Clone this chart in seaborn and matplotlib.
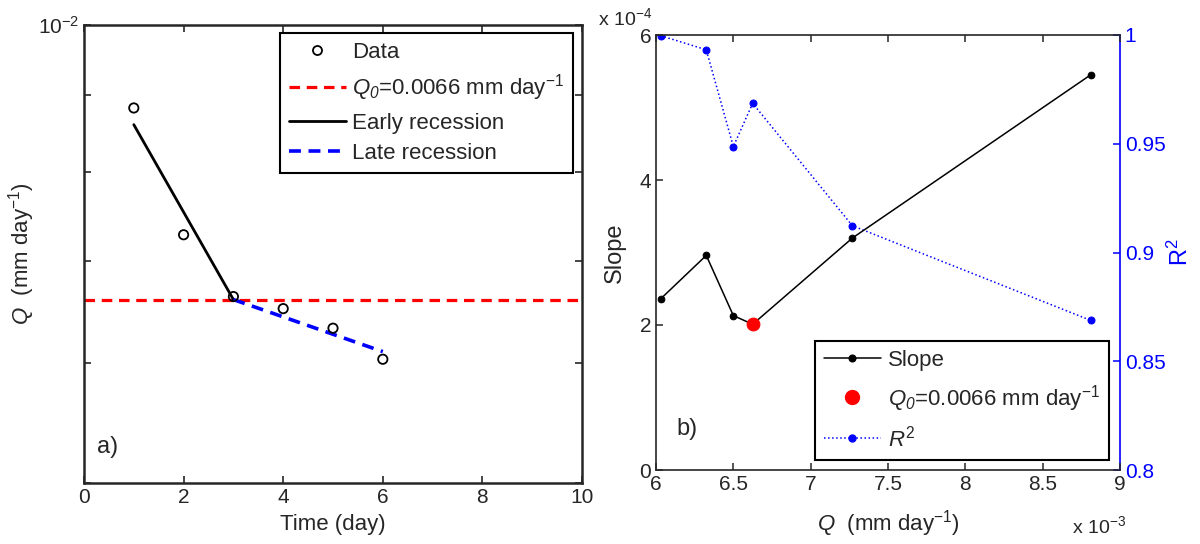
import matplotlib
matplotlib.use("Agg")
import matplotlib.pyplot as plt
import seaborn as sns
import pandas as pd
import numpy as np
from matplotlib.lines import Line2D

# ---- data ----
time_days = [1, 2, 3, 4, 5, 6]
q_data = [0.00882, 0.00728, 0.00663, 0.00651, 0.00632, 0.00603]
q0 = 0.0066
early_t = [1, 3]
early_q = [0.00860, 0.0066]
late_t = [3, 6]
late_q = [0.0066, 0.0061]

q_x = [6.03e-3, 6.325e-3, 6.50e-3, 6.625e-3, 7.27e-3, 8.81e-3]
slope_vals = [2.36e-4, 2.96e-4, 2.13e-4, 2.01e-4, 3.20e-4, 5.45e-4]
r2_vals = [0.9997, 0.9932, 0.9487, 0.9686, 0.9123, 0.8688]
q0_index = 3

sns.set_style("ticks")
plt.rcParams['font.family'] = ['Liberation Sans', 'DejaVu Sans']
plt.rcParams['mathtext.fontset'] = 'custom'
plt.rcParams['mathtext.rm'] = 'Liberation Sans'
plt.rcParams['mathtext.it'] = 'Liberation Sans:italic'
plt.rcParams['mathtext.sf'] = 'Liberation Sans:italic'
plt.rcParams['mathtext.bf'] = 'Liberation Sans:bold'

FT = 15      # tick labels
FL = 16      # axis labels
FG = 16      # legend
Q0LAB = r"$\mathit{Q}_\mathsf{0}$=0.0066 mm day$^{-1}$"

fig = plt.figure(figsize=(12, 5.44), dpi=100)
axL = fig.add_axes([84/1200, 1-483/544, (582-84)/1200, (483-25)/544])
axR = fig.add_axes([656/1200, 1-470/544, (1120-656)/1200, (470-35)/544])

DASH = (0, (3.3, 2.1))

# ---- left panel ----
dfd = pd.DataFrame({"t": time_days, "q": q_data})
axL.axhline(q0, color="red", ls=DASH, lw=2.3, zorder=2)
sns.lineplot(x=early_t, y=early_q, ax=axL, color="black", lw=2, zorder=3)
sns.lineplot(x=late_t, y=late_q, ax=axL, color="blue", lw=2.6, ls=DASH, zorder=3)
sns.scatterplot(data=dfd, x="t", y="q", ax=axL, marker="o", s=45,
                facecolors="none", edgecolor="black", linewidth=1.3, zorder=4)
axL.set_yscale("log")
axL.set_xlim(0, 10)
axL.set_ylim(0.005, 0.01)
axL.set_xticks([0, 2, 4, 6, 8, 10])
yt = [0.005, 0.006, 0.007, 0.008, 0.009, 0.01]
axL.set_yticks(yt)
axL.set_yticklabels(["", "", "", "", "", r"$10^{-2}$"])
axL.yaxis.set_minor_locator(matplotlib.ticker.NullLocator())
axL.tick_params(axis="both", which="both", direction="in", top=True, right=True,
                labelsize=FT, length=5, width=1.2)
axL.set_xlabel("Time (day)", fontsize=FL, labelpad=5)
axL.set_ylabel(r"$\mathit{Q}$  (mm day$^{-1}$)", fontsize=FL)
axL.yaxis.set_label_coords(-0.094, 0.5)
for s in axL.spines.values():
    s.set_linewidth(1.8)
axL.text(0.026, 0.055, "a)", transform=axL.transAxes, fontsize=FL + 1, va="bottom")

hL = [Line2D([], [], ls="none", marker="o", mfc="none", mec="black", ms=6.5, mew=1.3),
      Line2D([], [], color="red", ls=DASH, lw=2.3),
      Line2D([], [], color="black", lw=2),
      Line2D([], [], color="blue", ls=DASH, lw=2.6)]
labL = ["Data", Q0LAB, "Early recession", "Late recession"]
legL = axL.legend(hL, labL, loc="upper right", bbox_to_anchor=(0.982, 0.983),
                  borderaxespad=0, fontsize=FG, handlelength=2.55, handletextpad=0.3,
                  labelspacing=0.43, fancybox=False, framealpha=1, edgecolor="black",
                  borderpad=0.4)
legL.get_frame().set_linewidth(1.5)

# ---- right panel ----
dfr = pd.DataFrame({"q": q_x, "slope": slope_vals, "r2": r2_vals})
axR2 = axR.twinx()
sns.lineplot(data=dfr, x="q", y="r2", ax=axR2, color="blue", lw=1.1, ls=":",
             marker="o", markersize=5, markeredgecolor="blue", zorder=2)
sns.lineplot(data=dfr, x="q", y="slope", ax=axR, color="black", lw=1.1,
             marker="o", markersize=4.8, markeredgecolor="black", zorder=3)
sns.scatterplot(x=[q_x[q0_index]], y=[slope_vals[q0_index]], ax=axR, color="red",
                s=85, edgecolor="red", zorder=5)
axR.set_zorder(axR2.get_zorder() + 1)
axR.patch.set_visible(False)

axR.set_xlim(6e-3, 9e-3)
axR.set_ylim(0, 6e-4)
axR2.set_ylim(0.8, 1.0)
axR.set_xticks([6e-3, 6.5e-3, 7e-3, 7.5e-3, 8e-3, 8.5e-3, 9e-3])
axR.set_xticklabels(["6", "6.5", "7", "7.5", "8", "8.5", "9"])
axR.set_yticks([0, 2e-4, 4e-4, 6e-4])
axR.set_yticklabels(["0", "2", "4", "6"])
axR2.set_yticks([0.8, 0.85, 0.9, 0.95, 1.0])
axR2.set_yticklabels(["0.8", "0.85", "0.9", "0.95", "1"])
axR.tick_params(axis="both", direction="in", top=True, right=False, labelsize=FT,
                length=5, width=1.1)
axR2.tick_params(axis="y", direction="in", colors="blue", labelsize=FT, length=5, width=1.1)
axR.set_xlabel(r"$\mathit{Q}$  (mm day$^{-1}$)", fontsize=FL, labelpad=10)
axR.set_ylabel("Slope", fontsize=FL + 1)
axR.yaxis.set_label_coords(-0.065, 0.5)
axR2.set_ylabel(r"R$^2$", fontsize=FL + 1, color="blue")
axR2.yaxis.set_label_coords(1.103, 0.5)
for s in ["left", "top", "bottom"]:
    axR.spines[s].set_linewidth(1.2)
axR2.spines["right"].set_color("blue")
axR2.spines["right"].set_linewidth(1.2)
axR.spines["right"].set_visible(False)
for s in ["left", "top", "bottom"]:
    axR2.spines[s].set_visible(False)
axR.text(0.043, 0.069, "b)", transform=axR.transAxes, fontsize=FL + 1, va="bottom")
fig.text(598/1200, 1-18/544, r"x 10$^{-4}$", fontsize=FT - 1, va="center")
fig.text(1072/1200, 1-526/544, r"x 10$^{-3}$", fontsize=FT - 1, va="center")

hR = [Line2D([], [], color="black", lw=1.1, marker="o", ms=4.8),
      Line2D([], [], ls="none", marker="o", color="red", ms=10),
      Line2D([], [], color="blue", lw=1.1, ls=":", marker="o", ms=5)]
labR = ["Slope", Q0LAB, r"$\mathit{R^2}$"]
legR = axR.legend(hR, labR, loc="lower right", bbox_to_anchor=(0.976, 0.023),
                  borderaxespad=0, fontsize=FG, handlelength=2.6, handletextpad=0.3,
                  labelspacing=0.52, fancybox=False, framealpha=1, edgecolor="black",
                  borderpad=0.4)
legR.get_frame().set_linewidth(1.5)
legR.set_zorder(10)

fig.savefig("out.png", dpi=100)
